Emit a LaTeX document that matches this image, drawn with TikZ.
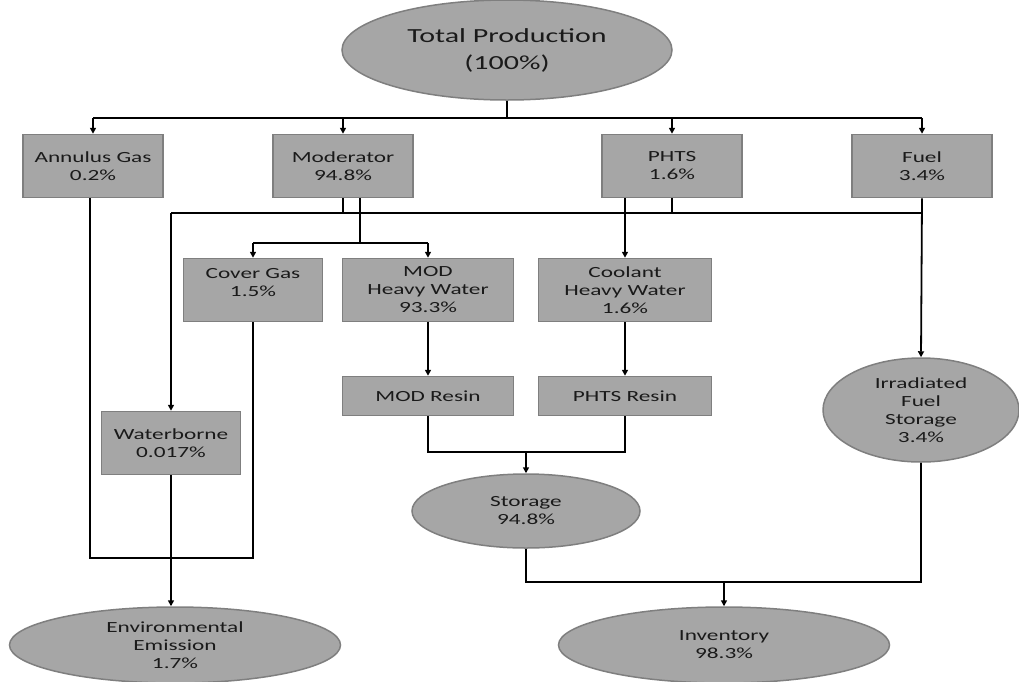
\documentclass[tikz,border=0pt]{standalone}
\usepackage{fontspec}
\setmainfont{Carlito}[FakeStretch=1.5]
\usetikzlibrary{shapes.geometric,arrows.meta}
\definecolor{boxfill}{HTML}{A6A6A6}
\definecolor{boxline}{HTML}{7F7F7F}
\definecolor{txt}{HTML}{1A1A1A}
\tikzset{
  box/.style={draw=boxline, fill=boxfill, line width=1.5pt, rectangle, inner sep=0pt,
    align=center, text=txt, font=\fontsize{15.5}{18}\selectfont},
  oval/.style={draw=boxline, fill=boxfill, line width=1.5pt, ellipse, inner sep=0pt,
    align=center, text=txt, font=\fontsize{15.5}{18}\selectfont},
  wire/.style={line width=1.8pt, black},
  arr/.style={wire, -{Triangle[length=6pt,width=6pt]}},
}
\begin{document}
\begin{tikzpicture}[x=1pt,y=-1pt]
\useasboundingbox (0,0) rectangle (1019,681);
% nodes
\node[oval, minimum width=330, minimum height=100, font=\fontsize{20}{27}\selectfont] (tp) at (507,50) {Total Production\\(100\%)};
\node[box, minimum width=140, minimum height=63] (ann) at (93,166) {Annulus Gas\\0.2\%};
\node[box, minimum width=140, minimum height=63] (mod) at (343,166) {Moderator\\94.8\%};
\node[box, minimum width=140, minimum height=63] (phts) at (672,166) {PHTS\\1.6\%};
\node[box, minimum width=140, minimum height=63] (fuel) at (922,166) {Fuel\\3.4\%};
\node[box, minimum width=139, minimum height=63] (cov) at (253,290) {Cover Gas\\1.5\%\\[-2pt]\phantom{x}};
\node[box, minimum width=171, minimum height=63] (modhw) at (428,290) {MOD\\Heavy Water\\93.3\%};
\node[box, minimum width=173, minimum height=63] (coolhw) at (625,290) {Coolant\\Heavy Water\\1.6\%};
\node[box, minimum width=171, minimum height=39] (modres) at (428,396) {MOD Resin};
\node[box, minimum width=173, minimum height=39] (phtsres) at (625,396) {PHTS Resin};
\node[box, minimum width=139, minimum height=63] (wat) at (171,443) {Waterborne\\0.017\%};
\node[oval, minimum width=196, minimum height=104] (ifs) at (921,410) {Irradiated\\Fuel\\Storage\\3.4\%};
\node[oval, minimum width=228, minimum height=74] (sto) at (526,511) {Storage\\94.8\%};
\node[oval, minimum width=331, minimum height=76] (env) at (175,645) {Environmental\\Emission\\1.7\%};
\node[oval, minimum width=331, minimum height=76] (inv) at (724,645) {Inventory\\98.3\%};
% junction coordinates
\coordinate (busA) at (0,118);
\coordinate (busB) at (0,213);
\coordinate (busC) at (0,243);
\coordinate (busD) at (0,452);
\coordinate (busE) at (0,558);
\coordinate (busF) at (0,582);
\coordinate (modA) at (343,0);
\coordinate (modB) at (360,0);
\coordinate (phA) at (625,0);
\coordinate (phB) at (672,0);
\coordinate (wl) at (171,0);
\coordinate (al) at (90,0);
% top bus
\draw[wire] (tp.south) -- (tp.south |- busA);
\draw[wire] (ann.north |- busA) -- (fuel.north |- busA);
\draw[arr] (ann.north |- busA) -- (ann.north);
\draw[arr] (mod.north |- busA) -- (mod.north);
\draw[arr] (phts.north |- busA) -- (phts.north);
\draw[arr] (fuel.north |- busA) -- (fuel.north);
% second bus (waterborne collector)
\draw[wire] (wl |- busB) -- (fuel.south |- busB);
\draw[wire] (modA |- mod.south) -- (modA |- busB);
\draw[wire] (phB |- phts.south) -- (phB |- busB);
\draw[arr] (wl |- busB) -- (wat.north);
% moderator split
\draw[wire] (modB |- mod.south) -- (modB |- busC);
\draw[wire] (cov.north |- busC) -- (modhw.north |- busC);
\draw[arr] (cov.north |- busC) -- (cov.north);
\draw[arr] (modhw.north |- busC) -- (modhw.north);
% PHTS to coolant
\draw[arr] (phA |- phts.south) -- (coolhw.north);
% fuel to IFS
\draw[arr] (fuel.south) -- (ifs.north);
% resins
\draw[arr] (modhw.south) -- (modres.north);
\draw[arr] (coolhw.south) -- (phtsres.north);
\draw[wire] (modres.south) -- (modres.south |- busD) -- (phtsres.south |- busD) -- (phtsres.south);
\draw[arr] (sto.north |- busD) -- (sto.north);
% emissions
\draw[wire] (al |- ann.south) -- (al |- busE) -- (cov.south |- busE) -- (cov.south);
\draw[arr] (wat.south) -- (wat.south |- env.north);
% inventory
\draw[wire] (sto.south) -- (sto.south |- busF) -- (ifs.south |- busF) -- (ifs.south);
\draw[arr] (inv.north |- busF) -- (inv.north);
\end{tikzpicture}
\end{document}
